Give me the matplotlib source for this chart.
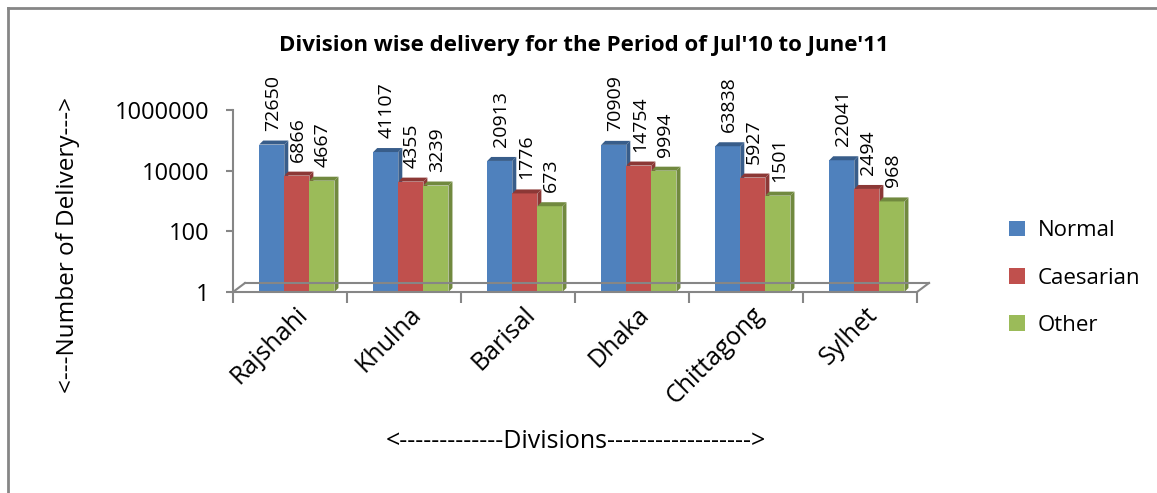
import numpy as np
import matplotlib
matplotlib.use("Agg")
import matplotlib.pyplot as plt
from matplotlib.patches import Polygon, Patch
from matplotlib.lines import Line2D

plt.rcParams["font.family"] = ["Open Sans", "DejaVu Sans"]

divisions = ["Rajshahi", "Khulna", "Barisal", "Dhaka", "Chittagong", "Sylhet"]
normal = [72650, 41107, 20913, 70909, 63838, 22041]
caesarian = [6866, 4355, 1776, 14754, 5927, 2494]
other = [4667, 3239, 673, 9994, 1501, 968]

series = [
    ("Normal", normal, "#4F81BD", "#385D8A"),
    ("Caesarian", caesarian, "#C0504D", "#8C3836"),
    ("Other", other, "#9BBB59", "#71893F"),
]

W, H = 1157, 493
fig = plt.figure(figsize=(W / 100, H / 100), dpi=100)

# axes placed in pixels
x0, x1, ytop, ybot = 233, 917, 110, 292
ax = fig.add_axes([x0 / W, (H - ybot) / H, (x1 - x0) / W, (ybot - ytop) / H])
ax.set_yscale("log")
ax.set_ylim(1, 1e6)
ax.set_xlim(-0.5, len(divisions) - 0.5)

px_per_unit = (x1 - x0) / len(divisions)
px_per_decade = (ybot - ytop) / 6.0
depth_px = 4
dx = depth_px / px_per_unit
f = 10 ** (depth_px / px_per_decade)

bw = 0.22
shift = 0.06
idx = np.arange(len(divisions))
for k, (name, vals, col, dark) in enumerate(series):
    xs = idx + (k - 1) * bw + shift
    for xc, v in zip(xs, vals):
        l, r = xc - bw / 2, xc + bw / 2
        ax.add_patch(Polygon([(l, 1), (r, 1), (r, v), (l, v)], closed=True,
                             facecolor=col, edgecolor="none", clip_on=False))
        ax.add_patch(Polygon([(r, 1), (r + dx, f), (r + dx, v * f), (r, v)],
                             closed=True, facecolor=dark, edgecolor="none", clip_on=False))
        ax.add_patch(Polygon([(l, v), (l + dx, v * f), (r + dx, v * f), (r, v)],
                             closed=True, facecolor=dark, edgecolor="none", clip_on=False))
        ax.annotate(str(v), (xc, v), xytext=(1, 14), textcoords="offset pixels",
                    rotation=90, ha="center", va="bottom", fontsize=14)

grey = "#868686"
for s in ["top", "right"]:
    ax.spines[s].set_visible(False)
ax.spines["left"].set_color(grey)
ax.spines["bottom"].set_color(grey)
ax.spines["left"].set_linewidth(1.5)
ax.spines["bottom"].set_linewidth(1.5)

ax.set_yticks([1, 100, 10000, 1000000])
ax.set_yticklabels(["1", "100", "10000", "1000000"])
ax.yaxis.set_minor_locator(matplotlib.ticker.NullLocator())
ax.tick_params(axis="y", length=5, width=1.5, color=grey, labelsize=17, pad=12)

ax.set_xticks(np.arange(len(divisions) + 1) - 0.5)
ax.set_xticklabels([])
ax.tick_params(axis="x", length=8, width=1.5, color=grey)
for i, d in enumerate(divisions):
    ax.annotate(d, (i, 1), xytext=(5, -10), textcoords="offset pixels",
                rotation=45, ha="right", va="top", rotation_mode="anchor",
                fontsize=18, annotation_clip=False)

# floor of the 3D plot
ox, oy = 12 / (x1 - x0), 9 / (ybot - ytop)
for xs_, ys_ in [([0, ox], [0, oy]), ([ox, 1 + ox], [oy, oy]), ([1, 1 + ox], [0, oy])]:
    ax.plot(xs_, ys_, transform=ax.transAxes, color=grey, lw=1.5, clip_on=False)

fig.text(584 / W, 1 - 46 / H, "Division wise delivery for the Period of Jul'10 to June'11",
         ha="center", va="center", fontsize=16, fontweight="bold")
fig.text(68 / W, 1 - 245 / H, "<---Number of Delivery--->", rotation=90,
         ha="center", va="center", fontsize=17.5)
fig.text(576 / W, 1 - 441 / H, "<-------------Divisions------------------>",
         ha="center", va="center", fontsize=18)

handles = [Patch(facecolor=c, edgecolor="none") for _, _, c, _ in series]
fig.legend(handles, [s[0] for s in series], loc="center left",
           bbox_to_anchor=(989 / W, 1 - 278 / H), frameon=False, fontsize=16,
           handlelength=0.7, handleheight=0.7, handletextpad=0.6, labelspacing=1.18)

# chart border (top and left only visible)
fig.add_artist(Line2D([7.5 / W, 7.5 / W], [0, 1 - 7.5 / H], color=grey, lw=2))
fig.add_artist(Line2D([7.5 / W, 1], [1 - 7.5 / H, 1 - 7.5 / H], color=grey, lw=2))

fig.savefig("out.png", dpi=100)
